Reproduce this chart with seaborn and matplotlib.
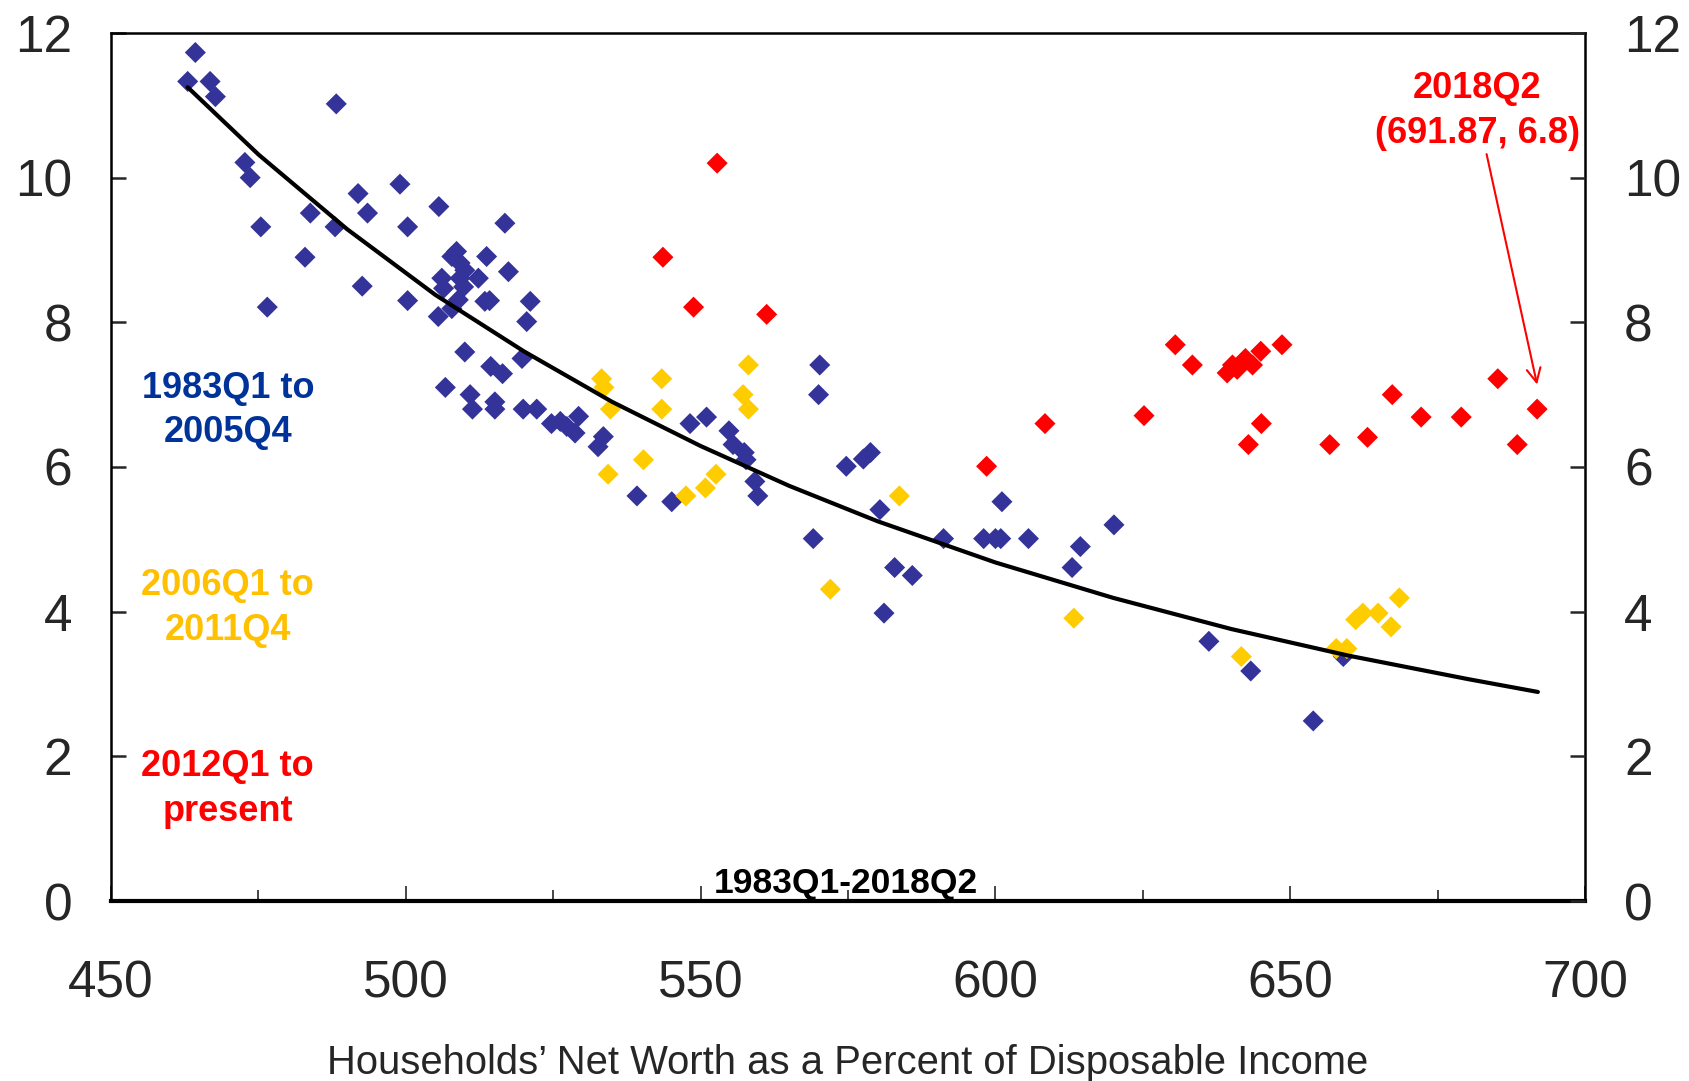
import numpy as np
import pandas as pd
import matplotlib
matplotlib.use("Agg")
import matplotlib.pyplot as plt
from matplotlib.ticker import MultipleLocator
import seaborn as sns

# --- data ---
blue_x = [463.0, 464.3, 466.8, 467.7, 472.7, 473.6, 475.4, 476.5, 482.9, 483.8,
          488.2, 488.0, 491.9, 492.6, 493.5, 499.0, 500.3, 500.3, 505.6, 505.5,
          506.1, 506.4, 506.7, 507.8, 507.8, 508.6, 508.9, 509.2, 509.2, 509.8,
          510.0, 510.0, 510.9, 511.3, 512.3, 513.4, 513.7, 514.2, 514.4, 515.1,
          515.1, 516.4, 516.8, 517.4, 519.7, 519.9, 520.5, 521.1, 522.2, 524.7,
          526.2, 527.3, 528.7, 529.3, 532.6, 533.5, 539.2, 545.1, 548.2, 551.0,
          554.8, 555.5, 557.4, 557.7, 559.2, 559.7, 569.1, 570.2, 570.0, 574.7,
          577.6, 578.8, 580.4, 581.1, 582.9, 585.9, 591.2, 598.0, 600.0, 600.9,
          601.1, 605.6, 613.0, 614.4, 620.1, 636.2, 643.3, 653.9, 659.0]
blue_y = [11.33, 11.73, 11.33, 11.12, 10.21, 10.00, 9.32, 8.21, 8.90, 9.51,
          11.02, 9.32, 9.78, 8.50, 9.51, 9.91, 9.32, 8.30, 9.60, 8.08,
          8.61, 8.47, 7.10, 8.91, 8.19, 8.98, 8.31, 8.82, 8.61, 8.49,
          8.72, 7.59, 7.00, 6.80, 8.61, 8.29, 8.91, 8.30, 7.39, 6.90,
          6.80, 7.29, 9.37, 8.70, 7.50, 6.80, 8.01, 8.29, 6.80, 6.60,
          6.63, 6.56, 6.47, 6.70, 6.28, 6.42, 5.60, 5.52, 6.60, 6.69,
          6.50, 6.31, 6.20, 6.10, 5.80, 5.60, 5.01, 7.41, 7.00, 6.01,
          6.11, 6.20, 5.41, 3.98, 4.61, 4.50, 5.01, 5.01, 5.01, 5.01,
          5.52, 5.01, 4.61, 4.90, 5.20, 3.59, 3.18, 2.49, 3.38]

gold_x = [533.2, 533.6, 534.7, 534.3, 540.3, 543.4, 543.4, 547.5, 550.8, 552.6,
          557.2, 558.1, 558.1, 583.7, 572.0, 613.3, 641.7, 657.8, 659.6, 661.1,
          662.3, 664.9, 667.1, 668.5]
gold_y = [7.22, 7.10, 6.80, 5.90, 6.10, 7.22, 6.80, 5.60, 5.71, 5.90,
          7.00, 7.41, 6.80, 5.60, 4.31, 3.91, 3.38, 3.49, 3.49, 3.89,
          3.98, 3.98, 3.79, 4.19]

red_x = [543.6, 548.8, 552.8, 561.2, 598.5, 608.4, 625.2, 630.5, 633.4, 639.3,
         640.2, 641.0, 642.4, 643.6, 642.9, 645.0, 645.1, 648.6, 656.7, 663.1,
         667.3, 672.2, 679.0, 685.2, 688.5, 691.87]
red_y = [8.90, 8.21, 10.20, 8.11, 6.01, 6.60, 6.71, 7.69, 7.41, 7.30,
         7.41, 7.35, 7.50, 7.41, 6.31, 7.60, 6.60, 7.69, 6.31, 6.41,
         7.00, 6.69, 6.69, 7.22, 6.31, 6.80]

# fitted curve
curve_x = [463, 475, 490, 505, 520, 535, 550, 565, 580, 600, 620, 640, 660, 680, 692]
curve_y = [11.25, 10.32, 9.29, 8.38, 7.60, 6.90, 6.29, 5.74, 5.25, 4.68, 4.19, 3.76, 3.39, 3.07, 2.89]

periods = ["1983Q1 to\n2005Q4", "2006Q1 to\n2011Q4", "2012Q1 to\npresent"]
colors = ["#333399", "#FFCC00", "#FF0000"]
text_colors = ["#003399", "#FFC000", "#FF0000"]

df = pd.concat([
    pd.DataFrame({"x": blue_x, "y": blue_y, "period": periods[0]}),
    pd.DataFrame({"x": gold_x, "y": gold_y, "period": periods[1]}),
    pd.DataFrame({"x": red_x, "y": red_y, "period": periods[2]}),
])
curve = pd.DataFrame({"x": curve_x, "y": curve_y})

sns.set_theme(style="white")
plt.rcParams["font.family"] = ["Liberation Sans", "DejaVu Sans"]

fig = plt.figure(figsize=(16.9, 10.81), dpi=100)
ax = fig.add_axes([0.0657, 0.1665, 0.8722, 0.803])

sns.lineplot(data=curve, x="x", y="y", color="black", linewidth=3, ax=ax, zorder=3)
sns.scatterplot(data=df, x="x", y="y", hue="period", hue_order=periods,
                palette=colors, marker="D", s=115, linewidth=0, legend=False,
                ax=ax, zorder=2)

ax.set_xlim(450, 700)
ax.set_ylim(0, 12)
ax.xaxis.set_major_locator(MultipleLocator(50))
ax.xaxis.set_minor_locator(MultipleLocator(25))
ax.yaxis.set_major_locator(MultipleLocator(2))

ax.set_xlabel("Households\u2019 Net Worth as a Percent of Disposable Income",
              fontsize=28.8, labelpad=26)
ax.set_ylabel("")

for s in ax.spines.values():
    s.set_color("black")
    s.set_linewidth(1.8)
ax.spines["bottom"].set_linewidth(3)

ax.tick_params(axis="x", which="major", direction="in", length=11, width=1.2,
               labelsize=37, pad=42, bottom=True)
ax.tick_params(axis="x", which="minor", direction="in", length=8, width=1.2, bottom=True)
ax.tick_params(axis="y", direction="in", length=11, width=1.8, labelsize=37, pad=28, left=True)

ax2 = ax.twinx()
ax2.set_ylim(0, 12)
ax2.yaxis.set_major_locator(MultipleLocator(2))
ax2.tick_params(axis="y", direction="in", length=11, width=1.8, labelsize=37, pad=28, right=True)
ax2.grid(False)
for s in ax2.spines.values():
    s.set_visible(False)

# period labels
for lab, c, yy in zip(periods, text_colors, [6.78, 4.05, 1.55]):
    ax.text(469.8, yy, lab, color=c, fontsize=26, fontweight="bold",
            ha="center", va="center", linespacing=1.35)

ax.text(574.7, 0.02, "1983Q1-2018Q2", fontsize=25.5, fontweight="bold",
        ha="center", va="bottom", color="black")

ax.annotate("2018Q2\n(691.87, 6.8)", xy=(691.87, 7.14), xytext=(681.7, 10.92),
            color="red", fontsize=26, fontweight="bold", ha="center", va="center",
            linespacing=1.35,
            arrowprops=dict(arrowstyle="->", color="red", lw=1.5,
                            shrinkA=0, shrinkB=0, mutation_scale=25))

fig.savefig("out.png", dpi=100)
